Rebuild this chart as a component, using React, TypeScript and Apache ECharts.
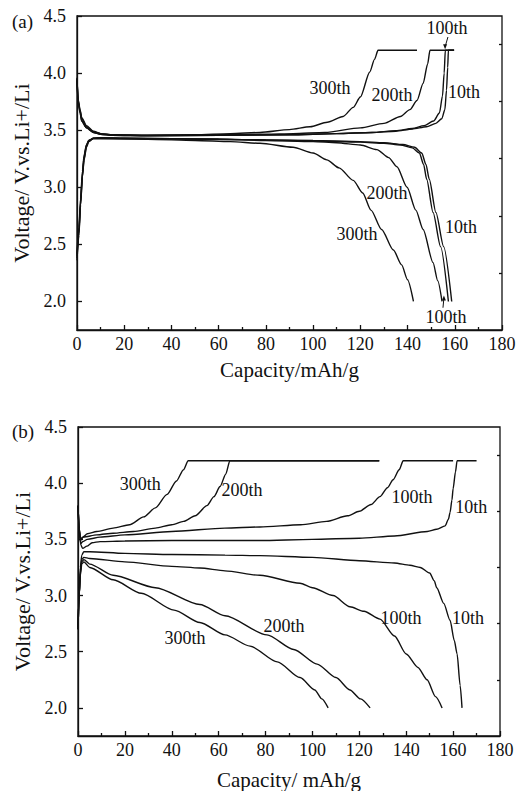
import React, { useEffect, useRef } from "react";
import * as echarts from "echarts";

const FONT = "'Liberation Serif', 'Times New Roman', serif";
const INK = "#111";

// axis ticks
const xTicks = [0, 20, 40, 60, 80, 100, 120, 140, 160, 180];
const yTicks = [2.0, 2.5, 3.0, 3.5, 4.0, 4.5];
const yMinorTicks = [2.25, 2.75, 3.25, 3.75, 4.25];

// ---- panel (a): charge curves [capacity, voltage]
const chargeA10 = [[0,3.95],[0.5,3.75],[1.3,3.66],[2,3.58],[4,3.52],[7,3.48],[10,3.465],[15,3.455],[30,3.45],[60,3.455],[90,3.46],[110,3.47],[125,3.48],[135,3.49],[142,3.51],[148,3.53],[152,3.56],[154.5,3.6],[155.8,3.68],[156.5,3.85],[157,4.05],[157.3,4.2],[159.7,4.2]];
const chargeA100 = [[0,3.93],[0.5,3.74],[1.3,3.65],[2,3.58],[4,3.52],[7,3.48],[10,3.465],[15,3.455],[30,3.45],[60,3.455],[90,3.46],[110,3.47],[125,3.48],[135,3.495],[142,3.515],[147,3.54],[151,3.58],[153.5,3.65],[154.8,3.8],[155.5,4.0],[156,4.2],[159.7,4.2]];
const chargeA200 = [[0,3.95],[0.5,3.76],[1.3,3.67],[2,3.6],[4,3.53],[7,3.485],[10,3.47],[15,3.46],[30,3.455],[60,3.46],[80,3.465],[91.6,3.47],[105,3.48],[120,3.52],[130,3.56],[137,3.62],[141,3.68],[144,3.76],[146.6,3.91],[148.5,4.08],[149.5,4.2],[159.7,4.2]];
const chargeA300 = [[0,3.96],[0.5,3.77],[1.3,3.68],[2,3.61],[4,3.54],[7,3.49],[10,3.47],[15,3.46],[30,3.455],[50,3.46],[65,3.47],[77.5,3.48],[90,3.505],[98.7,3.53],[106,3.57],[112.7,3.62],[117,3.7],[120,3.79],[124,4.01],[126,4.12],[127.5,4.2],[144,4.2]];
// ---- panel (a): discharge curves
const dischargeA10 = [[0,2.38],[0.8,2.6],[1.5,2.85],[2.3,3.1],[3,3.25],[4,3.36],[5,3.41],[7,3.43],[10,3.435],[20,3.43],[40,3.425],[60,3.42],[80,3.415],[100,3.41],[120,3.4],[130,3.39],[138,3.375],[143,3.35],[146,3.3],[147.8,3.2],[149.2,3.07],[152,2.78],[155.3,2.48],[158.7,2.0]];
const dischargeA100 = [[0,2.36],[0.8,2.58],[1.5,2.84],[2.3,3.09],[3,3.24],[4,3.35],[5,3.4],[7,3.43],[10,3.435],[20,3.43],[40,3.425],[60,3.42],[80,3.415],[100,3.405],[120,3.395],[130,3.385],[137,3.37],[142,3.345],[145,3.3],[146.8,3.2],[148.1,3.07],[150.8,2.78],[154,2.48],[157.3,2.0]];
const dischargeA200 = [[0,2.4],[0.8,2.62],[1.5,2.87],[2.3,3.12],[3,3.27],[4,3.37],[5,3.41],[7,3.43],[10,3.43],[30,3.425],[60,3.42],[80,3.41],[100,3.4],[110,3.39],[120,3.37],[127,3.33],[132,3.26],[135.5,3.18],[139.8,3.0],[143.5,2.8],[146.6,2.63],[150.8,2.34],[152.8,2.18],[154.6,2.0]];
const dischargeA300 = [[0,2.42],[0.8,2.65],[1.5,2.9],[2.3,3.14],[3,3.28],[4,3.37],[5,3.41],[7,3.425],[10,3.425],[30,3.42],[50,3.41],[65,3.4],[77.5,3.385],[91.5,3.35],[100,3.3],[105.8,3.24],[111,3.17],[117,3.06],[121,2.95],[124.5,2.8],[129,2.63],[134,2.45],[137.5,2.32],[140,2.19],[142.5,2.0]];

// ---- panel (b): charge curves
const chargeB10 = [[0,3.8],[0.5,3.6],[1.2,3.45],[2,3.42],[3.8,3.44],[6,3.47],[9.4,3.48],[20,3.485],[40,3.49],[62.7,3.49],[77.6,3.49],[100,3.5],[120,3.51],[135,3.53],[149,3.57],[153,3.59],[156.6,3.62],[158,3.68],[158.7,3.74],[159.5,3.85],[160,3.95],[161,4.1],[161.7,4.2],[170,4.2]];
const chargeB100 = [[0,3.8],[0.5,3.58],[1.2,3.46],[2,3.48],[4,3.5],[9.4,3.52],[20,3.54],[40,3.57],[62.7,3.6],[77.6,3.61],[95,3.63],[106,3.66],[115,3.71],[120,3.75],[125,3.81],[128.8,3.88],[132,3.96],[134.4,4.03],[137,4.12],[138.7,4.2],[160,4.2]];
const chargeB200 = [[0,3.8],[0.5,3.6],[1,3.49],[2.3,3.52],[8,3.54],[15,3.555],[23.6,3.57],[33,3.6],[40,3.63],[45,3.66],[50,3.71],[55,3.8],[58,3.88],[60.6,3.97],[63,4.08],[64.8,4.2],[128.5,4.2]];
const chargeB300 = [[0,3.8],[0.5,3.6],[1,3.5],[2,3.52],[4,3.55],[8,3.57],[15,3.6],[22,3.63],[28,3.7],[33,3.78],[38,3.9],[42,4.02],[45,4.12],[47,4.2],[128.5,4.2]];
// ---- panel (b): discharge curves
const dischargeB10 = [[0,2.72],[0.5,3.0],[1,3.25],[1.6,3.36],[2.5,3.39],[5,3.39],[20,3.375],[40,3.365],[62.7,3.36],[77.6,3.355],[100,3.34],[120,3.31],[135,3.29],[141.6,3.27],[146,3.25],[150,3.2],[152,3.13],[153,3.07],[156,2.93],[158.7,2.78],[160.5,2.6],[161.7,2.48],[163,2.2],[163.8,2.0]];
const dischargeB100 = [[0,2.7],[0.5,3.0],[1,3.22],[1.6,3.32],[2.5,3.34],[5,3.33],[20,3.3],[40,3.26],[52,3.245],[62.7,3.22],[77.6,3.18],[94.7,3.11],[100,3.07],[108.8,3.0],[116,2.9],[122,2.86],[128.8,2.79],[135,2.64],[140,2.48],[145,2.36],[148.9,2.25],[152.5,2.1],[155.3,2.0]];
const dischargeB200 = [[0,2.7],[0.5,3.0],[1,3.2],[1.6,3.3],[2.5,3.32],[5,3.28],[15,3.18],[33,3.07],[52,2.92],[62.7,2.82],[80.6,2.65],[92,2.52],[102,2.39],[110,2.27],[116,2.16],[120.5,2.08],[124.6,2.0]];
const dischargeB300 = [[0,2.7],[0.5,3.0],[1,3.18],[1.6,3.28],[2.5,3.3],[5,3.25],[15,3.14],[27,3.02],[41,2.87],[52,2.76],[62.7,2.65],[73.4,2.55],[85,2.41],[94.7,2.27],[101,2.16],[104,2.08],[106.7,2.0]];

// cycle labels placed in data coordinates [capacity, voltage, text]
const labelsA: [number, number, string][] = [
  [107.2, 3.87, "300th"], [133.4, 3.81, "200th"], [156.7, 4.395, "100th"], [163.9, 3.835, "10th"],
  [131.3, 2.95, "200th"], [118.6, 2.59, "300th"], [162.6, 2.65, "10th"], [156.3, 1.86, "100th"],
];
const labelsB: [number, number, string][] = [
  [26.5, 3.99, "300th"], [70, 3.94, "200th"], [142.5, 3.88, "100th"], [167.7, 3.79, "10th"],
  [45.6, 2.625, "300th"], [87.9, 2.73, "200th"], [137.8, 2.8, "100th"], [166.4, 2.8, "10th"],
];
// small pointer arrows in panel (a) [from, to]
const arrowsA = [
  [[157.1, 4.316], [155.9, 4.23]],
  [[155.0, 1.945], [155.4, 2.03]],
];

const curvesA = [chargeA10, chargeA100, chargeA200, chargeA300, dischargeA10, dischargeA100, dischargeA200, dischargeA300];
const curvesB = [chargeB10, chargeB100, chargeB200, chargeB300, dischargeB10, dischargeB100, dischargeB200, dischargeB300];

export default function App() {
  const ref = useRef<HTMLDivElement>(null);
  useEffect(() => {
    if (!ref.current) return;
    const chart = echarts.init(ref.current, null, { renderer: "svg" });

    const grids = [
      { left: 77, top: 16, width: 425, height: 314 },
      { left: 78, top: 427, width: 422, height: 312 },
    ];
    const xNameGaps = [29, 33];

    const xAxis = grids.map((_, i) => ({
      type: "value",
      gridIndex: i,
      min: xTicks[0],
      max: xTicks[xTicks.length - 1],
      interval: 20,
      name: i === 0 ? "Capacity/mAh/g" : "Capacity/ mAh/g",
      nameLocation: "middle",
      nameGap: xNameGaps[i],
      nameTextStyle: { fontFamily: FONT, fontSize: 21, color: INK },
      axisLine: { show: true, lineStyle: { color: INK, width: 1.3 } },
      axisTick: { show: true, inside: true, length: 5, lineStyle: { color: INK, width: 1.3 } },
      minorTick: { show: true, splitNumber: 2, length: 3, lineStyle: { color: INK, width: 1.3 } },
      axisLabel: { fontFamily: FONT, fontSize: 18, color: INK, margin: 5 },
      splitLine: { show: false },
    }));

    const yAxis: any[] = [];
    grids.forEach((_, i) => {
      yAxis.push({
        type: "value",
        gridIndex: i,
        min: 1.75,
        max: 4.5,
        name: "Voltage/ V.vs.Li+/Li",
        nameLocation: "middle",
        nameGap: 45,
        nameTextStyle: { fontFamily: FONT, fontSize: 22, color: INK },
        axisLine: { show: true, lineStyle: { color: INK, width: 1.3 } },
        axisTick: { show: true, inside: true, length: 5, customValues: yTicks, lineStyle: { color: INK, width: 1.3 } },
        axisLabel: { fontFamily: FONT, fontSize: 18, color: INK, margin: 11, customValues: yTicks, formatter: (v: number) => v.toFixed(1) },
        splitLine: { show: false },
      });
      yAxis.push({
        type: "value",
        gridIndex: i,
        min: 1.75,
        max: 4.5,
        axisLine: { show: false },
        axisTick: { show: true, inside: true, length: 3, customValues: yMinorTicks, lineStyle: { color: INK, width: 1.3 } },
        axisLabel: { show: false },
        splitLine: { show: false },
      });
    });

    const series: any[] = [];
    [curvesA, curvesB].forEach((curves, p) => {
      curves.forEach((d) => {
        series.push({
          type: "line",
          xAxisIndex: p,
          yAxisIndex: p * 2,
          data: d,
          symbol: "none",
          smooth: 0.25,
          smoothMonotone: "x",
          lineStyle: { color: INK, width: 1.4 },
          silent: true,
        });
      });
    });
    [labelsA, labelsB].forEach((labels, p) => {
      series.push({
        type: "scatter",
        xAxisIndex: p,
        yAxisIndex: p * 2,
        symbolSize: 1,
        itemStyle: { color: "transparent", opacity: 1 },
        data: labels.map(([c, v, t]) => ({ value: [c, v], name: t })),
        label: {
          show: true,
          position: "inside",
          formatter: "{b}",
          fontFamily: FONT,
          fontSize: 18,
          color: INK,
          opacity: 1,
          textBorderWidth: 0,
        },
        silent: true,
      });
    });
    arrowsA.forEach(([from, to]) => {
      const down = to[1] < from[1];
      series.push({
        type: "line",
        xAxisIndex: 0,
        yAxisIndex: 0,
        data: [
          { value: from, symbol: "none" },
          { value: to, symbol: "triangle", symbolSize: [4, 5], symbolRotate: down ? 180 : 0 },
        ],
        showSymbol: true,
        itemStyle: { color: INK },
        lineStyle: { color: INK, width: 1 },
        silent: true,
      });
    });

    chart.setOption({
      animation: false,
      backgroundColor: "#fff",
      textStyle: { fontFamily: FONT },
      grid: grids.map((g) => ({ ...g, show: true, borderColor: INK, borderWidth: 1.3, backgroundColor: "transparent" })),
      xAxis,
      yAxis,
      series,
      graphic: [
        { type: "text", left: 12, top: 12, style: { text: "(a)", fontFamily: FONT, fontSize: 19, fill: INK } },
        { type: "text", left: 12, top: 422, style: { text: "(b)", fontFamily: FONT, fontSize: 19, fill: INK } },
      ],
    });
    return () => chart.dispose();
  }, []);
  return <div ref={ref} style={{ position: "fixed", left: 0, top: 0, width: 519, height: 791 }} />;
}
